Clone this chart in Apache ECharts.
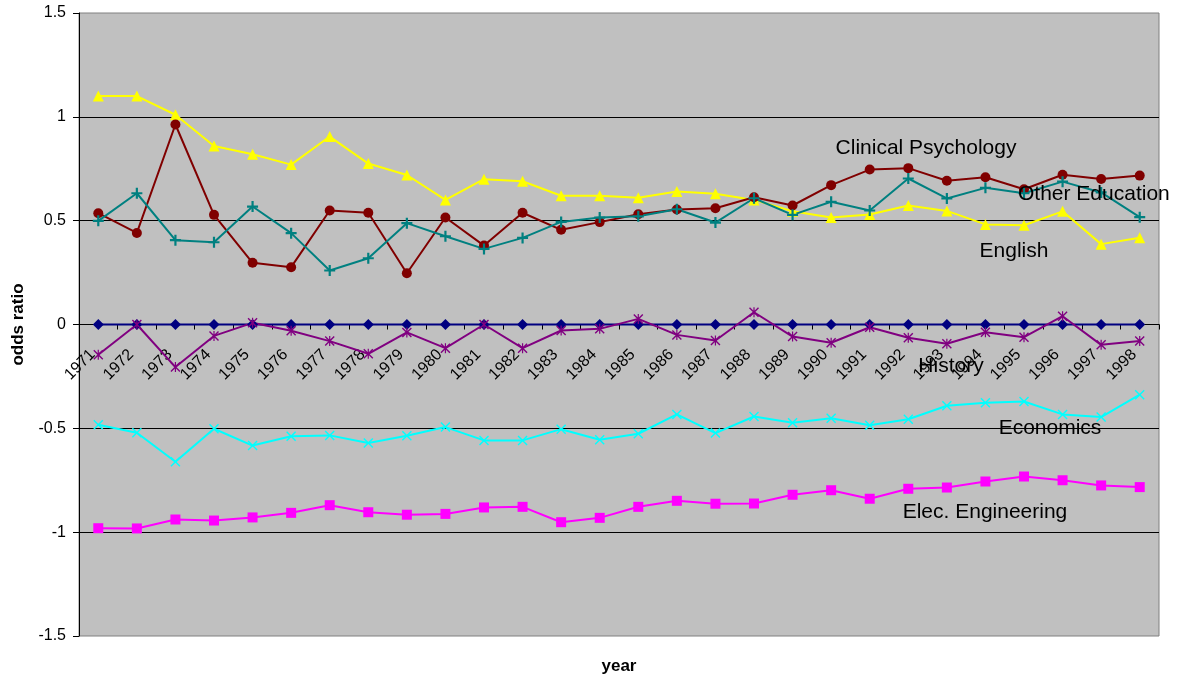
<!DOCTYPE html>
<html>
<head>
<meta charset="utf-8">
<script src="https://cdn.jsdelivr.net/npm/echarts@6/dist/echarts.min.js"></script>
<style>
  html, body { margin: 0; padding: 0; background: #fff; }
  #chart { width: 1186px; height: 681px; }
</style>
</head>
<body>
<div id="chart"></div>
<script>
// Odds ratios by field of study, 1971-1998
const years = ['1971','1972','1973','1974','1975','1976','1977','1978','1979','1980',
  '1981','1982','1983','1984','1985','1986','1987','1988','1989','1990',
  '1991','1992','1993','1994','1995','1996','1997','1998'];

const baseline = [0,0,0,0,0,0,0,0,0,0,0,0,0,0,0,0,0,0,0,0,0,0,0,0,0,0,0,0];

const elecEngineering = [-0.981,-0.982,-0.939,-0.944,-0.929,-0.907,-0.870,-0.904,-0.916,-0.912,
  -0.881,-0.878,-0.952,-0.931,-0.878,-0.849,-0.863,-0.862,-0.820,-0.798,
  -0.839,-0.791,-0.785,-0.756,-0.732,-0.750,-0.775,-0.783];

const economics = [-0.483,-0.521,-0.661,-0.502,-0.583,-0.538,-0.534,-0.571,-0.536,-0.494,
  -0.558,-0.558,-0.504,-0.555,-0.526,-0.433,-0.523,-0.443,-0.473,-0.451,
  -0.485,-0.456,-0.391,-0.377,-0.371,-0.433,-0.446,-0.338];

const history = [-0.146,0,-0.205,-0.055,0.008,-0.030,-0.080,-0.141,-0.038,-0.114,
  0,-0.114,-0.029,-0.021,0.027,-0.050,-0.077,0.059,-0.058,-0.088,
  -0.013,-0.064,-0.093,-0.037,-0.061,0.040,-0.098,-0.080];

const english = [1.10,1.10,1.01,0.86,0.82,0.77,0.905,0.775,0.72,0.60,
  0.70,0.69,0.62,0.62,0.61,0.64,0.63,0.60,0.545,0.515,
  0.53,0.573,0.547,0.482,0.478,0.545,0.387,0.418];

const clinicalPsychology = [0.536,0.441,0.963,0.528,0.297,0.276,0.549,0.538,0.247,0.515,
  0.380,0.538,0.456,0.493,0.531,0.554,0.560,0.613,0.573,0.671,
  0.746,0.753,0.692,0.709,0.651,0.721,0.701,0.717];

const otherEducation = [0.499,0.632,0.406,0.396,0.568,0.440,0.260,0.319,0.488,0.425,
  0.364,0.417,0.494,0.515,0.521,0.555,0.491,0.608,0.528,0.591,
  0.549,0.703,0.607,0.658,0.632,0.688,0.636,0.517];

const yTicks = { min: -1.5, max: 1.5, step: 0.5 };

// marker shapes
const PLUS = 'path://M4,0H6V4H10V6H6V10H4V6H0V4H4Z';
const CROSS = 'path://M0,1L1,0L5,4L9,0L10,1L6,5L10,9L9,10L5,6L1,10L0,9L4,5Z';
const STAR = 'path://M0,1L1,0L5,4L9,0L10,1L6,5L10,9L9,10L5,6L1,10L0,9L4,5Z M4.4,0H5.6V10H4.4Z';

const FONT = '"Liberation Sans", Arial, sans-serif';

// plot box
const GRID = { left: 79, right: 27, top: 13, bottom: 45 };
const CHART_H = 681;
const plotH = CHART_H - GRID.top - GRID.bottom;
// the category axis crosses the value axis at 0
const zeroShift = -plotH * (0 - yTicks.min) / (yTicks.max - yTicks.min);

function lineSeries(name, data, color, symbol, size) {
  return {
    name: name,
    type: 'line',
    data: data,
    symbol: symbol,
    symbolSize: size,
    showAllSymbol: true,
    lineStyle: { color: color, width: 2 },
    itemStyle: { color: color, borderWidth: 0 },
    emphasis: { disabled: true },
    animation: false,
    z: 3
  };
}

const chart = echarts.init(document.getElementById('chart'), null, { renderer: 'canvas' });

function label(text, x, y, align) {
  return {
    type: 'text',
    x: x, y: y,
    z: 100,
    style: {
      text: text,
      fill: '#000',
      font: '21px ' + FONT,
      align: align || 'center',
      verticalAlign: 'middle'
    }
  };
}

chart.setOption({
  animation: false,
  backgroundColor: '#ffffff',
  grid: {
    left: GRID.left, right: GRID.right, top: GRID.top, bottom: GRID.bottom,
    containLabel: false,
    outerBoundsMode: 'none',
    show: true,
    backgroundColor: '#C0C0C0',
    borderColor: '#808080',
    borderWidth: 1
  },
  xAxis: {
    type: 'category',
    data: years,
    boundaryGap: true,
    offset: zeroShift,
    axisLine: { onZero: false, lineStyle: { color: '#000', width: 1 } },
    axisTick: { show: true, inside: false, length: 5, lineStyle: { color: '#000' } },
    axisLabel: {
      interval: 0,
      rotate: 45,
      margin: 22,
      padding: [0, 8, 0, 0],
      color: '#000',
      fontSize: 16,
      fontFamily: FONT
    },
    splitLine: { show: false }
  },
  yAxis: {
    type: 'value',
    min: yTicks.min,
    max: yTicks.max,
    interval: yTicks.step,
    name: 'odds ratio',
    nameLocation: 'middle',
    nameRotate: 90,
    nameGap: 52,
    nameTextStyle: { color: '#000', fontSize: 17, fontWeight: 'bold', fontFamily: FONT },
    axisLine: { show: true, lineStyle: { color: '#000', width: 1 } },
    axisTick: { show: true, inside: false, length: 6, lineStyle: { color: '#000' } },
    axisLabel: { color: '#000', fontSize: 16, fontFamily: FONT, margin: 13 },
    splitLine: {
      show: true,
      showMinLine: false,
      showMaxLine: false,
      lineStyle: { color: '#000', width: 1 }
    }
  },
  series: [
    lineSeries('Reference', baseline, '#000080', 'diamond', 11),
    lineSeries('Elec. Engineering', elecEngineering, '#FF00FF', 'rect', 10),
    lineSeries('Economics', economics, '#00FFFF', CROSS, 10),
    lineSeries('History', history, '#800080', STAR, 10),
    lineSeries('English', english, '#FFFF00', 'triangle', 11),
    lineSeries('Clinical Psychology', clinicalPsychology, '#800000', 'circle', 10),
    lineSeries('Other Education', otherEducation, '#008080', PLUS, 11)
  ],
  graphic: [
    label('Clinical Psychology', 926, 148),
    label('Other Education', 1018, 194, 'left'),
    label('English', 1014, 251),
    label('History', 951, 366),
    label('Economics', 1050, 428),
    label('Elec. Engineering', 985, 512),
    {
      type: 'text',
      x: 619, y: 666,
      style: {
        text: 'year',
        fill: '#000',
        font: 'bold 17px ' + FONT,
        align: 'center',
        verticalAlign: 'middle'
      }
    }
  ]
});
</script>
</body>
</html>
